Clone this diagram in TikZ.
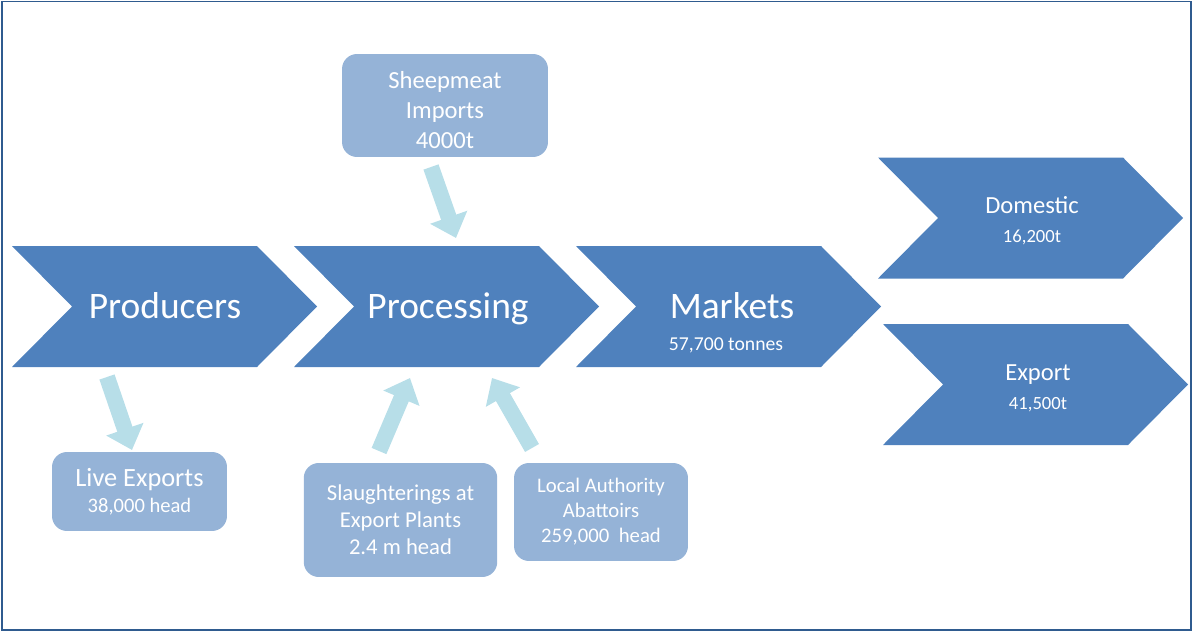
\documentclass[tikz,border=0pt]{standalone}
\usepackage{fontspec}
\setmainfont{Carlito}
\usepackage{xcolor}
\usepackage{tikz}
\usetikzlibrary{positioning,calc,arrows.meta}

\definecolor{chevblue}{HTML}{4F81BD}
\definecolor{boxblue}{HTML}{95B3D7}
\definecolor{arrowblue}{HTML}{B7DEE8}
\definecolor{frameblue}{HTML}{2F5B8F}

\newcommand{\chevfont}{\fontsize{21.3}{25}\selectfont}
\newcommand{\subfont}{\fontsize{14}{17}\selectfont}
\newcommand{\qtyfont}{\fontsize{10.6}{13}\selectfont}

\tikzset{
    infobox/.style={fill=boxblue, rounded corners=0.3cm, text=white, align=center, inner sep=0pt},
    boxtext/.style={text=white, align=center, inner sep=0pt},
    chevlabel/.style={text=white, anchor=base, inner sep=0pt},
    flowarrow/.style={arrowblue, line width=0.32cm, -{Triangle[width=0.76cm,length=0.44cm]}}
}

\begin{document}
\begin{tikzpicture}[x=0.02cm,y=-0.02cm]
    \useasboundingbox (0,0) rectangle (1193,632);
    \draw[frameblue, line width=0.04cm] (2,1.5) rectangle (1191,630);

    % chevrons
    \foreach \x/\y in {12/246, 294/246, 576/246, 878/157.5, 883/324} {
        \fill[chevblue] (\x,\y) -- ++(245,0) -- ++(60,60.5) -- ++(-60,60.5) -- ++(-245,0) -- ++(60,-60.5) -- cycle;
    }
    \node[chevlabel, font=\chevfont] (producers) at (165,318) {Producers};
    \node[chevlabel, font=\chevfont] (processing) at (448,318) {Processing};
    \node[chevlabel, font=\chevfont] (markets) at (732,318) {Markets};
    \node[chevlabel, font=\fontsize{11.2}{13}\selectfont] (marketsqty) at (726,350) {57,700 tonnes};
    \node[chevlabel, font=\subfont] (domestic) at (1032,213) {Domestic};
    \node[chevlabel, font=\qtyfont] (domesticqty) at (1032,242) {16,200t};
    \node[chevlabel, font=\subfont] (export) at (1038,380) {Export};
    \node[chevlabel, font=\qtyfont] (exportqty) at (1038,409) {41,500t};

    % boxes
    \node[infobox, minimum width=4.12cm, minimum height=2.06cm] (imports) at (445,105.5) {};
    \node[boxtext, yshift=-0.1cm, font=\fontsize{14}{17.1}\selectfont] (importstext) at (imports.center) {Sheepmeat\\Imports\\4000t};
    \node[infobox, minimum width=3.5cm, minimum height=1.58cm] (liveexp) at (139.5,491.5) {\fontsize{15}{15.4}\selectfont Live Exports\\[3pt]\fontsize{11.7}{15.4}\selectfont 38,000 head};
    \node[infobox, minimum width=3.87cm, minimum height=2.28cm, font=\fontsize{12.9}{15.4}\selectfont] (slaughter) at (400.5,520) {Slaughterings at\\Export Plants\\2.4 m head};
    \node[infobox, minimum width=3.48cm, minimum height=1.96cm, font=\fontsize{11.8}{14.2}\selectfont] (localauth) at (601,512) {Local Authority\\Abattoirs\\259,000~~head};

    % arrows
    \coordinate (impstart) at (431,167);   \coordinate (impend) at (456,238);
    \coordinate (livestart) at (107,377);  \coordinate (liveend) at (132,450);
    \coordinate (slstart) at (379,451);    \coordinate (slend) at (410,378);
    \coordinate (lastart) at (532,448);    \coordinate (laend) at (492,378);
    \draw[flowarrow] (impstart) -- (impend);
    \draw[flowarrow] (livestart) -- (liveend);
    \draw[flowarrow] (slstart) -- (slend);
    \draw[flowarrow] (lastart) -- (laend);
\end{tikzpicture}
\end{document}
